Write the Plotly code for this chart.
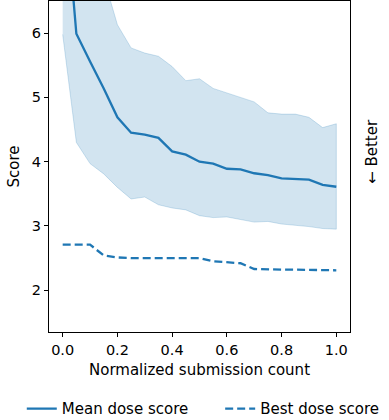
import plotly.graph_objects as go

# normalized submission count (21 steps)
x_vals = [0.0, 0.05, 0.1, 0.15, 0.2, 0.25, 0.3, 0.35, 0.4, 0.45, 0.5,
          0.55, 0.6, 0.65, 0.7, 0.75, 0.8, 0.85, 0.9, 0.95, 1.0]

mean_score = [8.5, 5.99, 5.56, 5.14, 4.69, 4.45, 4.42, 4.37, 4.16, 4.11, 4.0,
              3.97, 3.89, 3.88, 3.82, 3.79, 3.74, 3.73, 3.72, 3.64, 3.61]

band_upper = [11.0, 9.0, 7.6, 6.87, 6.13, 5.77, 5.69, 5.64, 5.48, 5.26, 5.29,
              5.14, 5.07, 5.01, 4.93, 4.76, 4.74, 4.74, 4.69, 4.53, 4.59]

band_lower = [5.98, 4.30, 3.97, 3.81, 3.60, 3.42, 3.45, 3.33, 3.28, 3.25, 3.16,
              3.13, 3.14, 3.10, 3.06, 3.07, 3.03, 3.01, 2.99, 2.96, 2.95]

best_score = [2.71, 2.71, 2.71, 2.54, 2.51, 2.50, 2.50, 2.50, 2.50, 2.50, 2.50,
              2.45, 2.44, 2.42, 2.33, 2.32, 2.32, 2.32, 2.32, 2.32, 2.31]

BLUE = "#1f77b4"
BAND = "rgba(31,119,180,0.2)"
FONT = "DejaVu Sans"
FS = 15
TICK_FS = 14.5

fig = go.Figure()

# shaded spread around the mean
fig.add_trace(go.Scatter(
    x=x_vals + x_vals[::-1], y=band_upper + band_lower[::-1],
    fill="toself", fillcolor=BAND,
    line=dict(color=BAND, width=1),
    hoverinfo="skip", showlegend=False,
))

fig.add_trace(go.Scatter(
    x=x_vals, y=mean_score, mode="lines", name="Mean dose score",
    line=dict(color=BLUE, width=2.3), legend="legend",
))

fig.add_trace(go.Scatter(
    x=x_vals, y=best_score, mode="lines", name="Best dose score",
    line=dict(color=BLUE, width=2.3, dash="8px,4px"), legend="legend2",
))

axis_common = dict(
    showgrid=False, zeroline=False,
    showline=True, linecolor="black", linewidth=1.2, mirror=True,
    ticks="outside", ticklen=4, tickwidth=1, tickcolor="black",
    tickfont=dict(family=FONT, size=TICK_FS, color="black"),
)

fig.update_xaxes(
    range=[-0.05, 1.05], tickvals=[0, 0.2, 0.4, 0.6, 0.8, 1.0],
    ticktext=["0.0", "0.2", "0.4", "0.6", "0.8", "1.0"],
    title=dict(text="Normalized submission count", standoff=7,
               font=dict(family=FONT, size=FS, color="black")),
    **axis_common,
)
fig.update_yaxes(
    range=[1.35, 6.5], tickvals=[2, 3, 4, 5, 6],
    title=dict(text="Score", standoff=8,
               font=dict(family=FONT, size=FS, color="black")),
    **axis_common,
)

fig.add_annotation(
    text="\u2190 Better", textangle=-90, showarrow=False,
    xref="paper", yref="paper", x=1.073, y=0.547,
    xanchor="center", yanchor="middle",
    font=dict(family=FONT, size=FS, color="black"),
)

leg_common = dict(
    orientation="h", xref="container", yref="container",
    xanchor="left", yanchor="top", y=0.066,
    font=dict(family=FONT, size=FS, color="black"),
    bgcolor="rgba(0,0,0,0)",
)

fig.update_layout(
    width=389, height=420,
    margin=dict(l=49, r=39, t=1, b=88, autoexpand=False),
    paper_bgcolor="white", plot_bgcolor="white",
    font=dict(family=FONT, size=FS, color="black"),
    legend=dict(x=0.056, **leg_common),
    legend2=dict(x=0.566, **leg_common),
)

# drop the default 8px body margin so the figure sits at the window corner
fig.write_html("out.html", config={"displayModeBar": False},
               post_script="document.body.style.margin='0';")
